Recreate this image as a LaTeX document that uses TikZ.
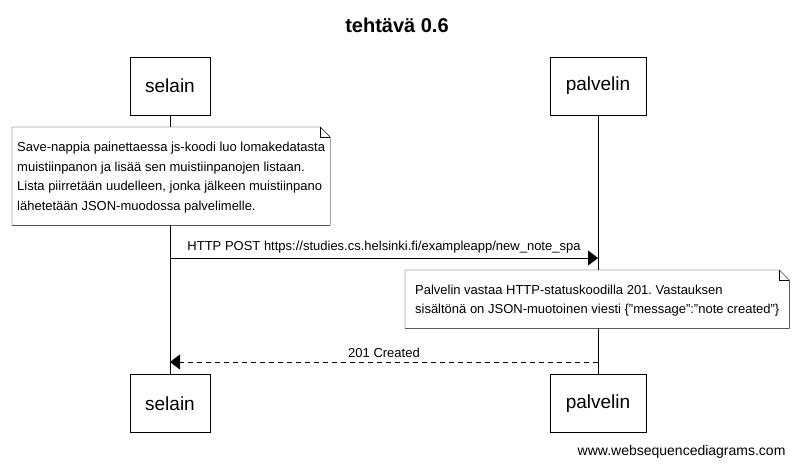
\documentclass[tikz,border=0pt]{standalone}
\usepackage{fontspec}
\setmainfont{Liberation Sans}
\usetikzlibrary{arrows.meta,positioning}
\frenchspacing

\begin{document}
\begin{tikzpicture}[
 x=1pt, y=-1pt, font=\fontsize{13}{19.5}\selectfont,
 actor/.style={draw, fill=white, minimum width=80pt, minimum height=58pt, font=\fontsize{19}{22}\selectfont},
 note/.style={align=left, anchor=north west, inner sep=5pt, text depth=0pt},
 msg/.style={-{Triangle[length=10pt,width=15pt]}},
 reply/.style={msg, dashed, dash pattern=on 5pt off 4pt}]
\useasboundingbox (0,0) rectangle (797,466);
\node[font=\bfseries\fontsize{20}{24}\selectfont] (title) at (397,25) {tehtävä 0.6};
% osallistujat
\node[actor] (selTop) at (170,86) {selain};
\node[actor, minimum width=96pt] (palTop) at (598,86) {palvelin};
\node[actor] (selBot) at (170,403.5) {selain};
\node[actor, minimum width=96pt] (palBot) at (598,403.5) {palvelin};
\draw (selTop) -- (selBot) (palTop) -- (palBot);
% muistiinpano 1
\node[note, minimum width=317pt, minimum height=98pt] (note1) at (12,127) {Save-nappia painettaessa js-koodi luo lomakedatasta\\ muistiinpanon ja lisää sen muistiinpanojen listaan.\\ Lista piirretään uudelleen, jonka jälkeen muistiinpano\\ lähetetään JSON-muodossa palvelimelle.};
\draw[fill=white] (note1.north west) -- ([xshift=-10pt]note1.north east) -- ([yshift=-10pt]note1.north east) -- (note1.south east) -- (note1.south west) -- cycle;
\draw ([xshift=-10pt]note1.north east) |- ([yshift=-10pt]note1.north east);
\node[note, minimum width=317pt, minimum height=98pt] at (12,127) {Save-nappia painettaessa js-koodi luo lomakedatasta\\ muistiinpanon ja lisää sen muistiinpanojen listaan.\\ Lista piirretään uudelleen, jonka jälkeen muistiinpano\\ lähetetään JSON-muodossa palvelimelle.};
% pyyntö
\coordinate (post0) at (170,258);
\coordinate (post1) at (598,258);
\draw[msg] (post0) -- (post1) node[midway, above=1pt] {HTTP POST https://studies.cs.helsinki.fi/exampleapp/new\_note\_spa};
% muistiinpano 2
\node[note, minimum width=384pt, minimum height=58pt] (note2) at (405,270) {Palvelin vastaa HTTP-statuskoodilla 201. Vastauksen\\ sisältönä on JSON-muotoinen viesti \{\symbol{34}message\symbol{34}:\symbol{34}note created\symbol{34}\}};
\draw[fill=white] (note2.north west) -- ([xshift=-10pt]note2.north east) -- ([yshift=-10pt]note2.north east) -- (note2.south east) -- (note2.south west) -- cycle;
\draw ([xshift=-10pt]note2.north east) |- ([yshift=-10pt]note2.north east);
\node[note, minimum width=384pt, minimum height=58pt] at (405,270) {Palvelin vastaa HTTP-statuskoodilla 201. Vastauksen\\ sisältönä on JSON-muotoinen viesti \{\symbol{34}message\symbol{34}:\symbol{34}note created\symbol{34}\}};
% vastaus
\coordinate (resp0) at (598,362);
\coordinate (resp1) at (170,362);
\draw[reply] (resp0) -- (resp1) node[midway, above=1pt] {201 Created};
\node[anchor=east, font=\fontsize{14}{16}\selectfont] (wsd) at (789,452) {www.websequencediagrams.com};
\end{tikzpicture}
\end{document}
